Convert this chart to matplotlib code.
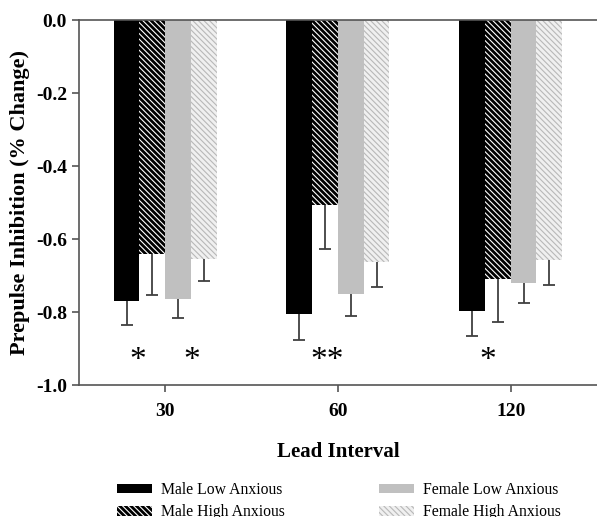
import numpy as np
import matplotlib
matplotlib.use('Agg')
import matplotlib.pyplot as plt

plt.rcParams['font.family'] = ['Liberation Serif', 'DejaVu Serif']
plt.rcParams['hatch.linewidth'] = 0.8

# data
lead_intervals = ['30', '60', '120']
groups = ['Male Low Anxious', 'Male High Anxious', 'Female Low Anxious', 'Female High Anxious']
male_low = [-0.770, -0.805, -0.796]
male_high = [-0.640, -0.507, -0.708]
female_low = [-0.763, -0.749, -0.720]
female_high = [-0.655, -0.662, -0.658]
male_low_err = [0.065, 0.072, 0.070]
male_high_err = [0.113, 0.121, 0.118]
female_low_err = [0.054, 0.062, 0.056]
female_high_err = [0.060, 0.070, 0.067]
stars = ['*', '*', '**', '*']
star_x = [-0.16, 0.155, -0.06, -0.13]
star_grp = [0, 0, 1, 2]
y_ticks = [-1.0, -0.8, -0.6, -0.4, -0.2, 0.0]
y_tick_labels = ['-1.0', '-0.8', '-0.6', '-0.4', '-0.2', '0.0']

means = [male_low, male_high, female_low, female_high]
errs = [male_low_err, male_high_err, female_low_err, female_high_err]
faces = ['black', 'black', '#c0c0c0', '#f0f0f0']
hatch_cols = [None, 'white', None, '#b8b8b8']
hatches = [None, '\\' * 6, None, '\\' * 6]

fig = plt.figure(figsize=(5.97, 5.17), dpi=100)
ax = fig.add_axes([0.132, 0.255, 0.868, 0.706])

x = np.arange(len(lead_intervals))
w = 0.149
handles = []
for i in range(4):
    pos = x + (i - 1.5) * w
    if hatches[i]:
        bars = ax.bar(pos, means[i], w, color=faces[i], edgecolor=hatch_cols[i],
                      hatch=hatches[i], linewidth=0, label=groups[i], zorder=2)
    else:
        bars = ax.bar(pos, means[i], w, color=faces[i], linewidth=0,
                      label=groups[i], zorder=2)
    handles.append(bars)
    # lower error bar only
    low = np.array(means[i]) - np.array(errs[i])
    ax.vlines(pos, low, means[i], color='#404040', lw=1.3, zorder=1)
    ax.plot(pos, low, ls='none', marker='_', ms=8, mew=1.3, color='#404040', zorder=1)

for s, dx, g in zip(stars, star_x, star_grp):
    ax.text(x[g] + dx, -0.956, s, ha='center', va='baseline', fontsize=24)

ax.set_xlim(-0.5, 2.5)
ax.set_ylim(-1.0, 0.0)
ax.set_xticks(x)
ax.set_xticklabels(lead_intervals, fontsize=14, fontweight='bold')
ax.set_yticks(y_ticks)
ax.set_yticklabels(y_tick_labels, fontsize=14, fontweight='bold')
ax.set_xlabel('Lead Interval', fontsize=15, fontweight='bold', labelpad=16)
ax.set_ylabel('Prepulse Inhibition (% Change)', fontsize=16, fontweight='bold', labelpad=4)

for side in ['left', 'bottom', 'top']:
    ax.spines[side].set_color('#555555')
    ax.spines[side].set_linewidth(1.2)
ax.spines['right'].set_visible(False)
ax.tick_params(colors='#555555', labelcolor='black', length=5, width=1.2)
ax.tick_params(axis='x', pad=8)

fig.legend(handles=handles, labels=groups, loc='upper left',
           bbox_to_anchor=(117 / 597, 1 - 482 / 517), ncol=2, frameon=False,
           fontsize=11.3, handlelength=2.2, handleheight=0.57, columnspacing=6.0,
           labelspacing=0.4, handletextpad=0.6, borderpad=0, borderaxespad=0)

fig.savefig('out.png', dpi=100)
